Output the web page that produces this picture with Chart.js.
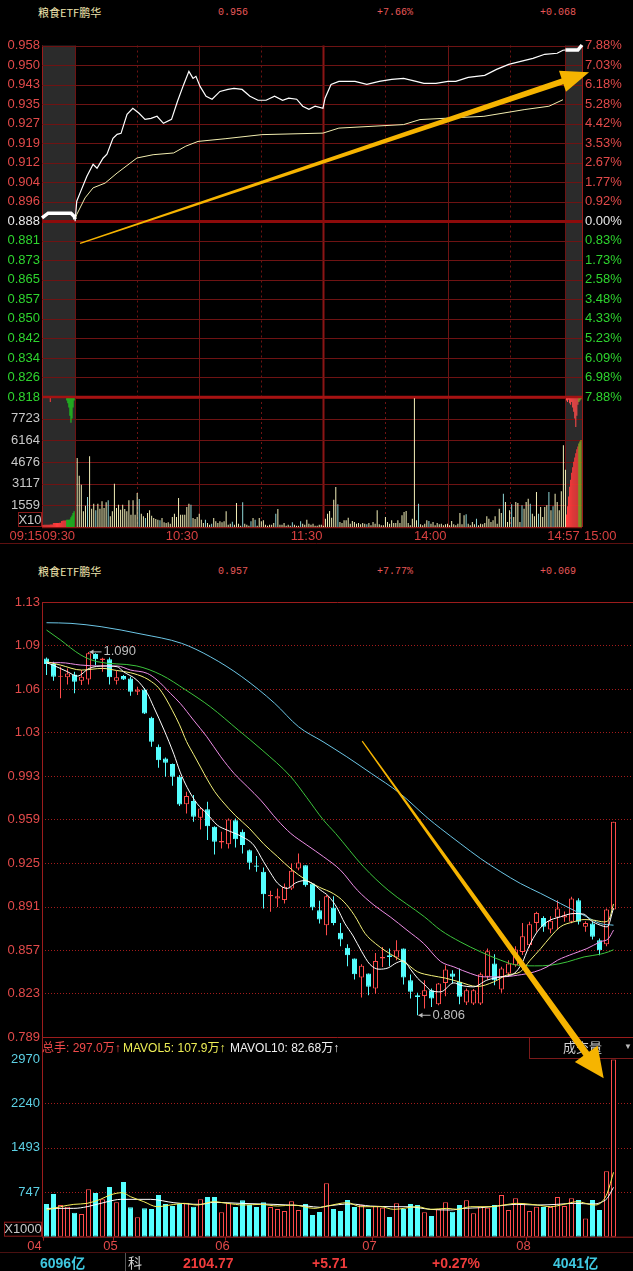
<!DOCTYPE html>
<html lang="zh-CN">
<head>
<meta charset="utf-8">
<title>粮食ETF鹏华</title>
<script src="https://cdn.jsdelivr.net/npm/chart.js@4.4.1/dist/chart.umd.min.js"></script>
<style>
  html, body { margin: 0; padding: 0; background: #000; }
  body { position: relative; width: 633px; height: 1271px; overflow: hidden; font-family: "Liberation Sans", "Noto Sans CJK SC", sans-serif; }
  canvas { position: absolute; left: 0; }
  .t { position: absolute; white-space: nowrap; line-height: 1; z-index: 1; }
  .name { font-family: "Noto Sans CJK SC", sans-serif; font-size: 11px; color: #efe4ae; }
  .quote { font-family: "Liberation Mono", monospace; font-size: 10px; color: #e85858; }
  .vol { font-size: 12px; }
  .foot { font-size: 14px; font-weight: bold; }
</style>
</head>
<body>
<div class="t name" style="left:38px;top:7px">粮食ETF鹏华</div>
<div class="t quote" style="left:218px;top:8px">0.956</div>
<div class="t quote" style="left:377px;top:8px">+7.66%</div>
<div class="t quote" style="left:540px;top:8px">+0.068</div>

<div class="t name" style="left:38px;top:566px">粮食ETF鹏华</div>
<div class="t quote" style="left:218px;top:567px">0.957</div>
<div class="t quote" style="left:377px;top:567px">+7.77%</div>
<div class="t quote" style="left:540px;top:567px">+0.069</div>

<canvas id="cPrice" width="633" height="380" style="top:30px"></canvas>
<canvas id="cMinVol" width="633" height="170" style="top:380px"></canvas>
<canvas id="cVol" width="633" height="240" style="top:1020px"></canvas>
<canvas id="cK" width="633" height="510" style="top:590px;z-index:3"></canvas>

<div class="t vol" style="left:42px;top:1042px;color:#f04a4a">总手: 297.0万↑</div>
<div class="t vol" style="left:123px;top:1042px;color:#eeee55">MAVOL5: 107.9万↑</div>
<div class="t vol" style="left:230px;top:1042px;color:#f0f0f0">MAVOL10: 82.68万↑</div>
<div class="t" style="left:529px;top:1037px;width:104px;height:21px;border-left:1px solid #7a1a1a;border-bottom:1px solid #7a1a1a;z-index:0"></div>
<div class="t" style="left:563px;top:1041px;font-size:13px;color:#d0d0d0">成交量</div>
<div class="t" style="left:624px;top:1043px;font-size:8px;color:#bbbbbb">▼</div>

<div class="t" style="left:0;top:1252px;width:633px;height:1px;background:#4a1010"></div>
<div class="t" style="left:125px;top:1253px;width:1px;height:18px;background:#555"></div>
<div class="t foot" style="left:40px;top:1256px;color:#3fc8e0">6096亿</div>
<div class="t foot" style="left:128px;top:1256px;color:#d0d0d0;font-weight:normal">科</div>
<div class="t foot" style="left:183px;top:1256px;color:#f03c3c">2104.77</div>
<div class="t foot" style="left:312px;top:1256px;color:#f03c3c">+5.71</div>
<div class="t foot" style="left:432px;top:1256px;color:#f03c3c">+0.27%</div>
<div class="t foot" style="left:553px;top:1256px;color:#3fc8e0">4041亿</div>

<script>
// ---------- 分时数据 (minutes after 09:30, -16 = 09:15, 237 = 14:57, 245 = 15:00) ----------
const priceU = [0,0.8,2.7,5.7,8.7,10.6,13.5,15.4,18.3,20.3,22.2,25.1,27.9,30.9,33.8,36.7,39.6,42.7,46.6,49.5,52.5,55,57,58.4,60.4,63.3,66.2,70,73.9,76.8,80.7,84.5,88.4,92.3,96.4,100.3,103.2,107.1,110,113,116,119.8,120.8,123.7,127.5,135.3,141,147,153,158.8,164.8,168.6,174.4,180.2,184,190,198,203.7,209.6,215.4,221.3,227,233,235.8,237];
const priceP = [0.888,0.896,0.8999,0.9059,0.9107,0.9091,0.9131,0.9147,0.921,0.9226,0.923,0.9306,0.933,0.931,0.9286,0.929,0.9298,0.927,0.9286,0.9358,0.9425,0.9477,0.9449,0.9457,0.9417,0.9378,0.9366,0.9397,0.9405,0.9409,0.9405,0.9378,0.9362,0.9362,0.9378,0.9362,0.937,0.9366,0.9338,0.9326,0.9338,0.933,0.937,0.9425,0.9437,0.9437,0.9425,0.9437,0.9445,0.9449,0.9437,0.9429,0.9429,0.9437,0.9437,0.9453,0.9461,0.9485,0.9505,0.9517,0.9529,0.9545,0.9549,0.9561,0.9562];
const avgU = [0,0.8,4.8,8.7,14.5,20.3,29.9,37.7,47.6,53.5,59.4,72.9,90.3,119.8,127.5,158.8,166.7,197.6,217.4,229,235.8];
const avgP = [0.8888,0.8907,0.8973,0.9013,0.9032,0.9072,0.9132,0.9145,0.9152,0.9179,0.9198,0.9209,0.9225,0.9231,0.9251,0.9265,0.9285,0.9298,0.9325,0.9338,0.9364];
const openPxU = [-16,-13,-2,-0.5,0];
const openPxP = [0.8893,0.8912,0.8912,0.8900,0.8888];
const closePxU = [237,243,245];
const closePxP = [0.9562,0.9562,0.9582];

const priceLabels = ['0.818','0.826','0.834','0.842','0.850','0.857','0.865','0.873','0.881','0.888','0.896','0.904','0.912','0.919','0.927','0.935','0.943','0.950','0.958'];
const pctLabels = ['7.88%','6.98%','6.09%','5.23%','4.33%','3.48%','2.58%','1.73%','0.83%','0.00%','0.92%','1.77%','2.67%','3.53%','4.42%','5.28%','6.18%','7.03%','7.88%'];

const morningVol = [4968,3696,3048,1128,1536,2160,5088,1320,1680,1200,
  1680,1320,1848,1368,1776,1920,768,1128,3120,1368,
  1608,1248,1608,1296,1128,1920,888,1920,888,2448,
  2016,960,768,648,1008,1200,816,648,576,528,
  480,648,336,288,336,240,720,960,720,
  2088,888,888,888,1440,1680,1608,648,576,720,
  960,528,288,528,288,168,240,648,408,288,
  408,336,408,1128,168,240,384,168,1728,
  240,96,1776,240,168,96,408,648,528,96,
  648,408,480,168,96,168,168,288,960,1296,
  168,168,288,96,168,96,336,168,96,
  96,408,240,168,528,240,168,240,96,96,
  168,168,96];
const afternoonVol = [600,960,1152,672,1968,2880,1632,360,288,480,
  480,672,240,432,360,240,288,192,288,240,
  192,288,120,360,240,1200,192,120,120,720,
  360,240,480,288,288,480,288,840,1080,1152,
  288,120,600,9360,
  480,1680,192,120,240,480,432,240,360,120,
  288,192,240,120,192,240,120,432,192,120,
  240,1008,192,840,912,240,120,360,192,600,
  120,240,192,288,768,600,360,480,768,240,
  1320,1008,2400,1800,360,1200,1632,720,1800,1728,
  360,1560,1320,1800,2040,1680,960,768,2520,960,
  1440,720,1440,1560,2520,1200,1488,2400,1800,1200,
  2568,5880,4128];
const minuteCyan = [6,10,16,31,34,41,56,63,66,76,81,85,87,97,105,109,127,141,166,171,189,194,207,211,216,220,224,229,231];
const minVolLabels = ['1559','3117','4676','6164','7723'];

const openAuctU = [-15.5,-15,-14.5,-14,-13.5,-13,-12.5,-12,-11.5,-11,-10.5,-10,-9.5,-9,-8.5,-8,-7.5,-7,-6.5,-6,-5.5,-5,-4.5,-4,-3.5,-3,-2.5,-2,-1.5,-1,-0.5];
const openAuctV = [150,160,160,170,170,170,170,180,180,180,280,280,290,290,290,290,300,300,440,450,460,460,470,520,520,530,540,700,820,1000,1130];
const openHangU = [-12,-4,-3.5,-3,-2.5,-2,-1.5,-1,-0.5];
const openHangV = [9000,9100,8900,8600,8000,7500,7800,8600,9100];
const closeAuctU = [237.5,238,238.5,239,239.5,240,240.5,241,241.5,242,242.5,243,243.5,244,244.5];
const closeAuctV = [900,1500,2200,2900,3400,3900,4300,4700,5000,5300,5600,5800,6000,6150,6260];
const closeHangV = [9100,9000,9150,8900,8800,9000,8600,8300,7800,7200,8000,8800,9000,9100,9200];

const timeLabels = ['09:15','09:30','10:30','11:30','14:00','14:57','15:00'];
const timeAt = [-16,0,60,120,180,237,245];

// ---------- 日K数据 ----------
const kOpen = [1.0849,1.0805,1.0706,1.0701,1.0724,1.0675,1.0685,1.0884,1.0836,1.0842,
  1.0675,1.0711,1.0693,1.0589,1.0607,1.0385,1.0159,1.0067,1.0023,0.9924,
  0.9710,0.9734,0.9603,0.9671,0.9533,0.9410,0.9397,0.9585,0.9494,0.9350,
  0.9230,0.9181,0.8991,0.8973,0.8960,0.9051,0.9207,0.9233,0.9090,0.8881,
  0.8764,0.8902,0.8704,0.8587,0.8503,0.8355,0.8386,0.8269,0.8503,0.8529,
  0.8511,0.8581,0.8334,0.8216,0.8211,0.8256,0.8146,0.8313,0.8386,0.8321,
  0.8160,0.8151,0.8151,0.8360,0.8464,0.8261,0.8386,0.8451,0.8555,0.8608,
  0.8782,0.8821,0.8730,0.8824,0.8824,0.8790,0.8959,0.8751,0.8777,0.8647,
  0.8615,0.8887];
const kClose = [1.0805,1.0706,1.0711,1.0732,1.0667,1.0706,1.0889,1.0842,1.0849,1.0701,
  1.0701,1.0685,1.0589,1.0607,1.0419,1.0198,1.0054,1.0033,0.9924,0.9708,
  0.9773,0.9611,0.9676,0.9538,0.9416,0.9421,0.9590,0.9436,0.9390,0.9251,
  0.9220,0.9006,0.8999,0.8991,0.9064,0.9189,0.9254,0.9077,0.8902,0.8808,
  0.8991,0.8782,0.8652,0.8529,0.8381,0.8446,0.8282,0.8485,0.8516,0.8516,
  0.8568,0.8355,0.8243,0.8203,0.8256,0.8190,0.8308,0.8417,0.8360,0.8204,
  0.8256,0.8256,0.8381,0.8560,0.8334,0.8425,0.8464,0.8574,0.8678,0.8772,
  0.8860,0.8751,0.8798,0.8894,0.8842,0.8973,0.8790,0.8782,0.8673,0.8568,
  0.8887,0.9572];
const kHigh = [1.0857,1.0823,1.0784,1.0771,1.0745,1.0758,1.0900,1.0890,1.0855,1.0857,
  1.0753,1.0719,1.0706,1.0628,1.0615,1.0393,1.0177,1.0075,1.0028,0.9937,
  0.9807,0.9781,0.9682,0.9728,0.9538,0.9494,0.9598,0.9598,0.9512,0.9356,
  0.9305,0.9215,0.9033,0.9051,0.9090,0.9246,0.9324,0.9233,0.9090,0.8954,
  0.8999,0.8991,0.8782,0.8615,0.8503,0.8459,0.8386,0.8547,0.8594,0.8581,
  0.8647,0.8581,0.8378,0.8235,0.8334,0.8269,0.8313,0.8451,0.8412,0.8425,
  0.8270,0.8265,0.8395,0.8581,0.8537,0.8440,0.8490,0.8600,0.8782,0.8790,
  0.8868,0.8834,0.8834,0.8959,0.8870,0.8986,0.8975,0.8795,0.8790,0.8660,
  0.8895,0.9572];
const kLow = [1.0719,1.0675,1.0537,1.0646,1.0576,1.0641,1.0646,1.0797,1.0745,1.0646,
  1.0646,1.0680,1.0557,1.0563,1.0414,1.0159,0.9994,0.9924,0.9854,0.9695,
  0.9637,0.9572,0.9512,0.9429,0.9317,0.9364,0.9364,0.9371,0.9324,0.9199,
  0.9181,0.8894,0.8868,0.8907,0.8934,0.9038,0.9194,0.9064,0.8881,0.8777,
  0.8686,0.8764,0.8600,0.8443,0.8339,0.8198,0.8216,0.8229,0.8438,0.8443,
  0.8490,0.8300,0.8190,0.8060,0.8112,0.8125,0.8138,0.8208,0.8308,0.8146,
  0.8140,0.8140,0.8140,0.8340,0.8295,0.8235,0.8360,0.8440,0.8530,0.8590,
  0.8712,0.8712,0.8700,0.8730,0.8790,0.8780,0.8770,0.8712,0.8652,0.8529,
  0.8600,0.8887];
const kVol = [548,716,531,503,402,380,794,732,626,833,
  576,917,492,324,475,464,699,548,514,548,
  570,503,626,665,665,408,559,497,609,531,
  497,576,497,464,430,593,447,548,363,414,
  894,464,430,615,497,531,464,514,486,330,
  559,464,548,531,408,347,464,576,419,531,
  609,391,503,486,531,699,447,643,559,430,
  503,497,497,665,514,643,615,307,615,447,
  1095,2970];

const ma5I = [0,1,2,3,4.4,6.1,8.2,10.1,11,12.9,14.4,15.3,16.8,18.2,19.1,20.1,21.5,22.9,24.4,25.8,27.7,29.6,31,32,33,34.4,35.6,36.8,38,39.1,40.3,41.5,42.6,43.8,45,46.2,47.5,48.8,50,51,52,53,54,55,56.3,58.2,59.1,61,62.9,64.9,66.8,67.9,68.9,70.1,71.5,73.4,75.3,76.8,77.7,79.1,80.1,81];
const ma5P = [1.0816,1.0795,1.0770,1.0745,1.0711,1.0771,1.0790,1.0784,1.0745,1.0680,1.0576,1.0471,1.0289,1.0100,0.9960,0.9840,0.9715,0.9637,0.9546,0.9507,0.9462,0.9390,0.9261,0.9173,0.9093,0.9051,0.9095,0.9112,0.9090,0.9040,0.8990,0.8900,0.8780,0.8680,0.8560,0.8458,0.8420,0.8430,0.8470,0.8485,0.8420,0.8350,0.8300,0.8250,0.8243,0.8313,0.8295,0.8282,0.8334,0.8360,0.8386,0.8464,0.8594,0.8712,0.8790,0.8829,0.8855,0.8850,0.8803,0.8764,0.8751,0.8896];
const ma10I = [0,2,5,8,10,12,14,15,16,17,18,19,20,21,22,23,24,25,27,29,31,33,35,37,39,41,42.5,44,45.5,47,48.5,50,51.5,53,55,57,59,61.5,63.9,65.7,67.7,69.1,70.6,72,73.4,75.3,76.8,78.2,79.6,80.3,81];
const ma10P = [1.0823,1.0797,1.0758,1.0771,1.0755,1.0737,1.0700,1.0667,1.0620,1.0540,1.0440,1.0330,1.0200,1.0100,1.0000,0.9900,0.9810,0.9740,0.9620,0.9520,0.9400,0.9300,0.9200,0.9120,0.9060,0.9010,0.8946,0.8840,0.8700,0.8620,0.8560,0.8510,0.8460,0.8400,0.8370,0.8350,0.8320,0.8285,0.8321,0.8373,0.8400,0.8490,0.8581,0.8673,0.8751,0.8790,0.8808,0.8803,0.8790,0.8803,0.8930];
const ma20I = [0,2,4.9,7.7,10.1,12,14.4,15.8,17.7,19.1,21,22.9,24.9,26.8,28.7,30.6,33,34.9,37.2,39.6,42,44.4,46.8,49.1,51.5,53.9,56.3,58.2,60.6,62.5,64.9,67.3,69.7,71.5,73,75.3,77.2,79.1,80.3,81];
const ma20P = [1.0816,1.0816,1.0797,1.0790,1.0790,1.0758,1.0732,1.0680,1.0576,1.0498,1.0367,1.0237,1.0080,0.9950,0.9846,0.9741,0.9585,0.9481,0.9390,0.9298,0.9194,0.9038,0.8920,0.8829,0.8725,0.8620,0.8480,0.8438,0.8386,0.8360,0.8360,0.8373,0.8399,0.8438,0.8490,0.8542,0.8581,0.8634,0.8660,0.8725];
const ma30I = [0,2,4.9,7.2,12.9,16.4,19.9,23.4,27.4,30.8,34.9,37.2,39.5,41.3,45.3,48.8,54,56.3,59.1,62,64.9,67.3,69.7,72,74.4,76.8,79.1,80.3,81];
const ma30P = [1.1071,1.0993,1.0876,1.0824,1.0790,1.0720,1.0602,1.0471,1.0289,1.0133,0.9924,0.9760,0.9590,0.9481,0.9220,0.9038,0.8829,0.8725,0.8634,0.8556,0.8490,0.8451,0.8446,0.8451,0.8477,0.8516,0.8537,0.8556,0.8572];
const ma60I = [0,3.5,7.8,13.5,19.3,23.4,27.9,32.6,36,39.5,42.9,46.4,50.5,54.5,56.3,59.1,62,64.9,67.7,70.6,73.4,75.3,77.2,79.1,81];
const ma60P = [1.1128,1.1123,1.1097,1.1040,1.0967,1.0862,1.0706,1.0498,1.0315,1.0198,1.0080,0.9950,0.9794,0.9599,0.9520,0.9403,0.9285,0.9181,0.9090,0.9012,0.8934,0.8881,0.8829,0.8777,0.8764];

const mavol5I = [0,2,3.9,5.8,7.7,9.1,10.8,12,13.9,15.8,17.7,19.6,21.5,23.9,25.8,28.2,30.6,33,35.3,38.2,40.1,43,44.9,47.7,49.6,53,54.9,57.2,58.7,60.6,63.4,65.3,67.2,70.1,72,73.9,75.8,78.2,79.1,80.1,81];
const mavol5V = [447,503,542,559,626,699,738,671,587,503,531,559,531,587,559,531,542,514,531,475,514,570,503,503,458,503,458,475,458,503,503,531,559,531,503,542,587,531,559,727,1079];
const mavol10I = [0,3.9,5.8,8.7,10.6,14.9,18.2,22,23.9,27.7,32.5,37.2,39.1,40.1,43.4,46.3,49.6,51.5,54.9,57.7,59.6,62,64.4,67.2,70.1,72.9,75.3,78.2,79.1,80.1,81];
const mavol10V = [475,475,503,587,626,626,570,542,576,559,542,514,492,514,548,514,503,503,458,447,475,486,514,542,531,542,559,548,570,643,827];

const kLabels = ['0.789','0.823','0.857','0.891','0.925','0.959','0.993','1.03','1.06','1.09','1.13'];
const volLabels = ['747','1493','2240','2970'];
const monthLabels = ['04','05','06','07','08'];
const monthStart = [0,10,26,47,69];

// ---------- 样式 ----------
Chart.defaults.font.family = "'Liberation Sans', Arial, sans-serif";
Chart.defaults.font.size = 13;
Chart.defaults.animation = false;
Chart.defaults.events = [];
Chart.defaults.plugins.legend.display = false;
Chart.defaults.plugins.tooltip.enabled = false;

const GRID = '#6e1313';
const EDGE = '#9c1c1c';
const RED = '#ff4b4b';
const CYAN = '#55ffff';
const AMBER = '#f6b400';
const TXT_RED = '#e24a4a';
const VOL_TOP = 9354;

const xy = (xs, ys) => xs.map((x, k) => ({ x: x, y: ys[k] }));
const fixWidth = (w) => (s) => { s.width = w; };

function seg(ctx, x1, y1, x2, y2, color, width, dash) {
  ctx.save();
  ctx.strokeStyle = color;
  ctx.lineWidth = width || 1;
  ctx.setLineDash(dash || []);
  ctx.beginPath();
  ctx.moveTo(x1, y1);
  ctx.lineTo(x2, y2);
  ctx.stroke();
  ctx.restore();
}

// tapered arrow, tip at (x2, y2)
function bigArrow(ctx, x1, y1, x2, y2, w, headLen, headW) {
  const len = Math.hypot(x2 - x1, y2 - y1);
  ctx.save();
  ctx.translate(x1, y1);
  ctx.rotate(Math.atan2(y2 - y1, x2 - x1));
  ctx.fillStyle = AMBER;
  ctx.beginPath();
  ctx.moveTo(0, -0.6);
  ctx.lineTo(len - headLen, -w / 2);
  ctx.lineTo(len - headLen, -headW / 2);
  ctx.lineTo(len, 0);
  ctx.lineTo(len - headLen, headW / 2);
  ctx.lineTo(len - headLen, w / 2);
  ctx.lineTo(0, 0.6);
  ctx.closePath();
  ctx.fill();
  ctx.restore();
}

// 最高/最低价标注
function priceNote(ctx, x, y, text) {
  seg(ctx, x + 1, y, x + 13, y, '#bdbdbd', 1);
  ctx.save();
  ctx.fillStyle = '#bdbdbd';
  ctx.beginPath();
  ctx.moveTo(x + 1, y);
  ctx.lineTo(x + 5, y - 2.5);
  ctx.lineTo(x + 5, y + 2.5);
  ctx.fill();
  ctx.font = "13px 'Liberation Sans'";
  ctx.textBaseline = 'middle';
  ctx.fillText(text, x + 15, y);
  ctx.restore();
}

// 分时背景: 集合竞价灰块 + 竖线
const vGrid = [
  { u: -16, c: EDGE }, { u: 0 }, { u: 30, dash: [2, 3] }, { u: 60 }, { u: 90, dash: [2, 3] },
  { u: 120, w: 2, c: '#8a1515' }, { u: 150, dash: [2, 3] }, { u: 180 }, { u: 210, dash: [2, 3] },
  { u: 237 }, { u: 245, c: EDGE }
];
function timeGrid(chart) {
  const { ctx, chartArea: a, scales: { x } } = chart;
  const px = (u) => x.getPixelForValue(u);
  ctx.save();
  ctx.fillStyle = '#2b2b2b';
  ctx.fillRect(px(-16), a.top, px(0) - px(-16), a.bottom - a.top);
  ctx.fillRect(px(237), a.top, px(245) - px(237), a.bottom - a.top);
  ctx.restore();
  vGrid.forEach(g => {
    const xx = Math.round(px(g.u)) + 0.5;
    seg(ctx, xx, a.top, xx, a.bottom, g.c || GRID, g.w || 1, g.dash);
  });
}

const sideColor = (k) => k < 9 ? '#2ed42e' : (k === 9 ? '#e8e8e8' : TXT_RED);
const priceGrid = priceLabels.map((_, k) => 0.818 + k * 0.14 / 18);

// ---------- 分时价格 ----------
new Chart(document.getElementById('cPrice'), {
  type: 'line',
  data: {
    datasets: [
      { data: xy(priceU, priceP), borderColor: '#ffffff', borderWidth: 1.2 },
      { data: xy(avgU, avgP), borderColor: '#f3eeb0', borderWidth: 1 },
      { data: xy(openPxU, openPxP), borderColor: '#ffffff', borderWidth: 3.5, clip: false },
      { data: xy(closePxU, closePxP), borderColor: '#ffffff', borderWidth: 3.5, clip: false }
    ]
  },
  options: {
    responsive: false,
    layout: { padding: { top: 15.5, bottom: 13, left: 0, right: 0 } },
    elements: { point: { radius: 0 }, line: { tension: 0 } },
    scales: {
      x: { type: 'linear', min: -16, max: 245, display: false },
      y: {
        min: 0.818, max: 0.958, position: 'left',
        afterFit: fixWidth(42),
        afterBuildTicks: (s) => { s.ticks = priceGrid.map(v => ({ value: v })); },
        grid: { display: false, drawTicks: false }, border: { display: false },
        ticks: { padding: 2, autoSkip: false, callback: (v, i) => priceLabels[i], color: (c) => sideColor(c.index) }
      },
      y2: {
        min: 0.818, max: 0.958, position: 'right',
        afterFit: fixWidth(51),
        afterBuildTicks: (s) => { s.ticks = priceGrid.map(v => ({ value: v })); },
        grid: { display: false, drawTicks: false }, border: { display: false },
        ticks: { padding: 3, autoSkip: false, callback: (v, i) => pctLabels[i], color: (c) => sideColor(c.index) }
      }
    }
  },
  plugins: [{
    id: 'priceDecor',
    beforeDatasetsDraw(chart) {
      const { ctx, chartArea: a, scales: { y } } = chart;
      timeGrid(chart);
      y.ticks.forEach((t, k) => {
        const yy = Math.round(y.getPixelForValue(t.value)) + 0.5;
        if (k === 9) seg(ctx, a.left, yy, a.right, yy, '#8e0b0b', 3);
        else if (k === 0) seg(ctx, a.left, yy, a.right, yy, '#a51212', 2.5);
        else seg(ctx, a.left, yy, a.right, yy, GRID, 1);
      });
    },
    afterDraw(chart) {
      const { ctx, scales: { x, y } } = chart;
      bigArrow(ctx, x.getPixelForValue(2.4), y.getPixelForValue(0.8792),
        x.getPixelForValue(248.4), y.getPixelForValue(0.9473), 6, 28, 22);
    }
  }]
});

// ---------- 分时成交量 ----------
const minuteU = morningVol.map((_, k) => k + 1).concat(afternoonVol.map((_, k) => k + 121));
const minuteV = morningVol.concat(afternoonVol);
const minuteColor = minuteU.map(u => minuteCyan.includes(u) ? '#8fd6d6' : '#f3efb8');

new Chart(document.getElementById('cMinVol'), {
  type: 'bar',
  data: {
    datasets: [
      { data: xy(minuteU, minuteV), backgroundColor: minuteColor, maxBarThickness: 1 },
      { data: xy(openAuctU, openAuctV), backgroundColor: openAuctU.map(u => u >= -4 ? '#1ed01e' : '#ff3c3c'), maxBarThickness: 2 },
      { data: openHangU.map((u, k) => ({ x: u, y: [VOL_TOP, openHangV[k]] })), backgroundColor: openHangU.map(u => u >= -4 ? '#1ed01e' : '#ff3c3c'), maxBarThickness: 2 },
      { data: xy(closeAuctU, closeAuctV), backgroundColor: closeAuctU.map(u => u >= 243.5 ? '#9bb020' : '#ff3c3c'), maxBarThickness: 2 },
      { data: closeAuctU.map((u, k) => ({ x: u, y: [VOL_TOP, closeHangV[k]] })), backgroundColor: closeAuctU.map(u => u >= 243.5 ? '#9bb020' : '#ff4a4a'), maxBarThickness: 2 }
    ]
  },
  options: {
    responsive: false,
    layout: { padding: { top: 17, bottom: 23, left: 0, right: 51 } },
    datasets: { bar: { grouped: false, inflateAmount: 0, borderWidth: 0, categoryPercentage: 1, barPercentage: 1 } },
    scales: {
      x: { type: 'linear', min: -16, max: 245, offset: false, display: false },
      y: {
        min: 0, max: VOL_TOP, stacked: false,
        afterFit: fixWidth(42),
        afterBuildTicks: (s) => { s.ticks = minVolLabels.map((_, k) => ({ value: (k + 1) * VOL_TOP / 6 })); },
        grid: { display: false, drawTicks: false }, border: { display: false },
        ticks: { padding: 2, autoSkip: false, callback: (v, i) => minVolLabels[i], color: '#c8c8c8' }
      }
    }
  },
  plugins: [{
    id: 'minVolDecor',
    beforeDatasetsDraw(chart) {
      const { ctx, chartArea: a, scales: { y } } = chart;
      timeGrid(chart);
      y.ticks.forEach(t => {
        const yy = Math.round(y.getPixelForValue(t.value)) + 0.5;
        seg(ctx, a.left, yy, a.right, yy, GRID, 1);
      });
      seg(ctx, a.left, a.bottom + 0.5, a.right, a.bottom + 0.5, '#8a1414', 1.5);
      seg(ctx, 0, a.bottom + 16.5, 633, a.bottom + 16.5, '#5e1010', 1);
    },
    afterDraw(chart) {
      const { ctx, chartArea: a, scales: { x } } = chart;
      seg(ctx, a.left, a.top, a.right, a.top, '#a51212', 2.5);
      const align = ['right', 'right', 'right', 'right', 'right', 'center', 'left'];
      const shift = [0, 0, -1, -1, -1, -2, 2];
      ctx.save();
      ctx.font = "13px 'Liberation Sans'";
      ctx.fillStyle = '#d84040';
      ctx.textBaseline = 'middle';
      timeLabels.forEach((s, k) => {
        ctx.textAlign = align[k];
        ctx.fillText(s, x.getPixelForValue(timeAt[k]) + shift[k], a.bottom + 9);
      });
      ctx.strokeStyle = '#8a1a1a';
      ctx.strokeRect(18.5, a.bottom - 14.5, 23, 14);
      ctx.fillStyle = '#c8c8c8';
      ctx.textAlign = 'center';
      ctx.fillText('X10', 30, a.bottom - 7);
      ctx.restore();
    }
  }]
});

// ---------- 日K ----------
const kIdx = kOpen.map((_, i) => i);
const kUp = kOpen.map((o, i) => kClose[i] >= o);
const X_MIN = -4.5 / 7, X_MAX = -4.5 / 7 + 591 / 7;
const kGrid = kLabels.map((_, k) => 0.789 + k * 0.034);

new Chart(document.getElementById('cK'), {
  type: 'bar',
  data: {
    datasets: [
      { type: 'line', data: xy(ma5I, ma5P), borderColor: '#ffffff', order: 0 },
      { type: 'line', data: xy(ma10I, ma10P), borderColor: '#f5f27a', order: 0 },
      { type: 'line', data: xy(ma20I, ma20P), borderColor: '#ee8ee6', order: 0 },
      { type: 'line', data: xy(ma30I, ma30P), borderColor: '#3cc43c', order: 0 },
      { type: 'line', data: xy(ma60I, ma60P), borderColor: '#6cc6e6', order: 0 },
      {
        data: kIdx.map(i => ({ x: i, y: [kOpen[i], kClose[i]] })), order: 1,
        backgroundColor: kUp.map(u => u ? '#000000' : CYAN), borderColor: kUp.map(u => u ? RED : CYAN),
        borderWidth: 1, borderSkipped: false, minBarLength: 1, maxBarThickness: 5
      },
      {
        data: kIdx.map(i => ({ x: i, y: [kLow[i], kHigh[i]] })), order: 2,
        backgroundColor: kUp.map(u => u ? RED : CYAN), borderWidth: 0, maxBarThickness: 1
      }
    ]
  },
  options: {
    responsive: false,
    layout: { padding: { top: 12, bottom: 63, left: 0, right: 0 } },
    datasets: {
      bar: { grouped: false, inflateAmount: 0, categoryPercentage: 1, barPercentage: 1 },
      line: { borderWidth: 1, pointRadius: 0, cubicInterpolationMode: 'monotone' }
    },
    scales: {
      x: { type: 'linear', min: X_MIN, max: X_MAX, offset: false, display: false },
      y: {
        min: 0.789, max: 1.129, stacked: false,
        afterFit: fixWidth(42),
        afterBuildTicks: (s) => { s.ticks = kGrid.map(v => ({ value: v })); },
        grid: { display: false, drawTicks: false }, border: { display: false },
        ticks: { padding: 2, autoSkip: false, callback: (v, i) => kLabels[i], color: TXT_RED }
      }
    }
  },
  plugins: [{
    id: 'kDecor',
    beforeDatasetsDraw(chart) {
      const { ctx, chartArea: a, scales: { y } } = chart;
      y.ticks.forEach((t, k) => {
        const yy = Math.round(y.getPixelForValue(t.value)) + 0.5;
        if (k === y.ticks.length - 1 || k === 0) seg(ctx, a.left, yy, a.right, yy, EDGE, 1);
        else seg(ctx, a.left, yy, a.right, yy, '#a41c1c', 1, [1, 2]);
      });
      seg(ctx, a.left + 0.5, a.top, a.left + 0.5, a.bottom, EDGE, 1);
    },
    afterDraw(chart) {
      const { ctx, scales: { x, y } } = chart;
      priceNote(ctx, x.getPixelForValue(6), y.getPixelForValue(1.090), '1.090');
      priceNote(ctx, x.getPixelForValue(53), y.getPixelForValue(0.806), '0.806');
      bigArrow(ctx, x.getPixelForValue(45.1), y.getPixelForValue(1.0203),
        x.getPixelForValue(79.6), y.getPixelForValue(0.7568), 7, 30, 28);
    }
  }]
});

// ---------- 日成交量 ----------
new Chart(document.getElementById('cVol'), {
  type: 'bar',
  data: {
    datasets: [
      { type: 'line', data: xy(mavol5I, mavol5V), borderColor: '#f5f05a', order: 0 },
      { type: 'line', data: xy(mavol10I, mavol10V), borderColor: '#ffffff', order: 0 },
      {
        data: xy(kIdx, kVol), order: 1,
        backgroundColor: kUp.map(u => u ? '#000000' : CYAN), borderColor: kUp.map(u => u ? RED : CYAN),
        borderWidth: 1, borderSkipped: false, maxBarThickness: 5
      }
    ]
  },
  options: {
    responsive: false,
    layout: { padding: { top: 17, bottom: 23.3, left: 0, right: 0 } },
    datasets: {
      bar: { grouped: false, inflateAmount: 0, categoryPercentage: 1, barPercentage: 1 },
      line: { borderWidth: 1, pointRadius: 0, cubicInterpolationMode: 'monotone' }
    },
    scales: {
      x: { type: 'linear', min: X_MIN, max: X_MAX, offset: false, display: false },
      y: {
        min: 0, max: 3347, stacked: false,
        afterFit: fixWidth(42),
        afterBuildTicks: (s) => { s.ticks = volLabels.map(v => ({ value: Number(v) })); },
        grid: { display: false, drawTicks: false }, border: { display: false },
        ticks: { padding: 2, autoSkip: false, callback: (v, i) => volLabels[i], color: '#5cd0e4' }
      }
    }
  },
  plugins: [{
    id: 'volDecor',
    beforeDatasetsDraw(chart) {
      const { ctx, chartArea: a, scales: { x, y } } = chart;
      y.ticks.forEach((t, k) => {
        if (k > 2) return;
        const yy = Math.round(y.getPixelForValue(t.value)) + 0.5;
        seg(ctx, a.left, yy, a.right, yy, '#a41c1c', 1, [1, 2]);
      });
      seg(ctx, a.left + 0.5, a.top, a.left + 0.5, a.bottom, EDGE, 1);
      seg(ctx, a.left, a.bottom + 0.5, a.right, a.bottom + 0.5, EDGE, 1);
      ctx.save();
      ctx.font = "13px 'Liberation Sans'";
      ctx.fillStyle = TXT_RED;
      ctx.textAlign = 'center';
      ctx.textBaseline = 'middle';
      monthStart.forEach((i, k) => {
        const px = Math.round(x.getPixelForValue(i - 0.5)) + 0.5;
        seg(ctx, px, a.bottom, px, a.bottom + 4, EDGE, 1);
        ctx.fillText(monthLabels[k], px - (k === 0 ? 9 : 3), a.bottom + 9.5);
      });
      ctx.strokeStyle = '#8a1a1a';
      ctx.strokeRect(4.5, a.bottom - 14.5, 37, 14);
      ctx.fillStyle = '#c8c8c8';
      ctx.fillText('X1000', 23, a.bottom - 7);
      ctx.restore();
    }
  }]
});
</script>
</body>
</html>
